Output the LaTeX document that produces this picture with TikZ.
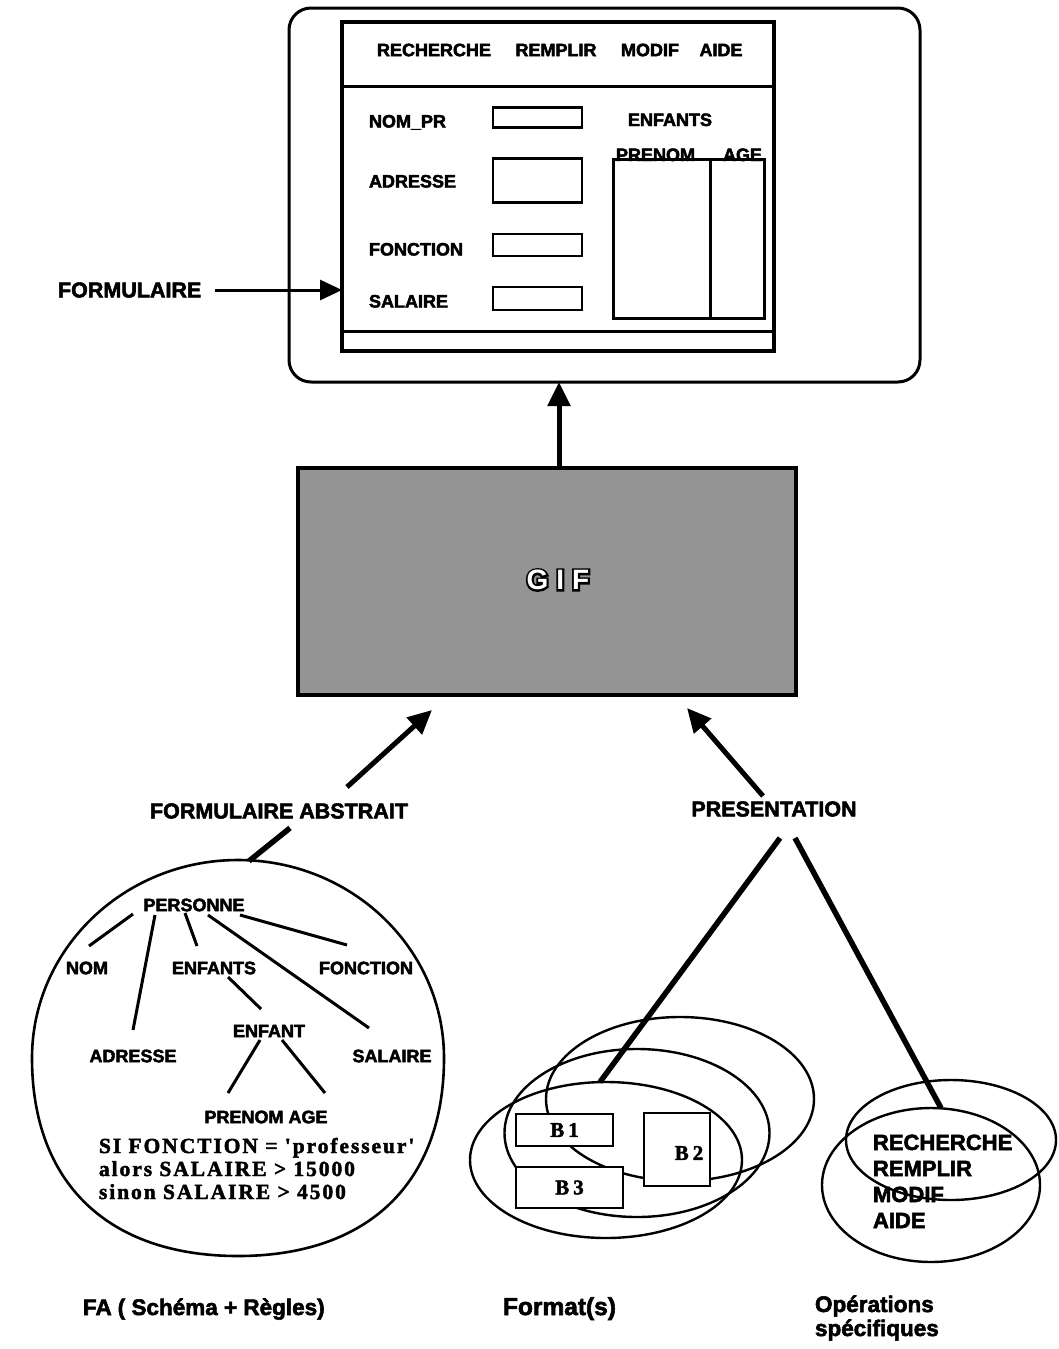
\documentclass[tikz,border=0pt]{standalone}
\usepackage{fontspec}
\setmainfont{Liberation Sans}[BoldFeatures={FakeBold=2.5}]
\newfontfamily\rulefont[LetterSpace=9,BoldFeatures={FakeBold=2}]{Liberation Serif}
\newfontfamily\gifoutline[FakeBold=14]{Liberation Sans Bold}
\newfontfamily\giffont{Liberation Sans Bold}
\usetikzlibrary{arrows.meta,shapes.geometric}
\begin{document}
\begin{tikzpicture}[x=1pt,y=-1pt,
  every node/.style={inner sep=0pt, outer sep=0pt},
  ftxt/.style={font=\bfseries\fontsize{18}{20}\selectfont},
  btxt/.style={font=\bfseries\fontsize{21.5}{24}\selectfont},
  otxt/.style={font=\bfseries\fontsize{22}{24}\selectfont},
  ltxt/.style={font=\bfseries\fontsize{22.5}{25}\selectfont},
  lbig/.style={font=\bfseries\fontsize{24.5}{27}\selectfont},
  rtxt/.style={font=\rulefont\bfseries\fontsize{21.5}{23}\selectfont},
  btext/.style={font=\rulefont\bfseries\fontsize{21}{22}\selectfont},
  field/.style={draw, line width=2.3pt, fill=white},
  tline/.style={line width=3pt},
  pline/.style={line width=5.5pt},
  arr/.style={line width=5pt, -{Triangle[length=24pt,width=22pt]}},
  oval/.style={draw, ellipse, line width=2.4pt},
]
\useasboundingbox (0,0) rectangle (1059,1349);

% ---------- screen / form ----------
\node[draw, line width=3pt, rounded corners=22pt, minimum width=631pt, minimum height=374pt] (screen) at (604.5,195) {};
\node[draw, line width=3.5pt, minimum width=432pt, minimum height=329pt] (form) at (558,186.5) {};
\draw[line width=3pt] ([yshift=-64pt]form.north west) -- ([yshift=-64pt]form.north east);
\draw[line width=3pt] ([yshift=20pt]form.south west) -- ([yshift=20pt]form.south east);

\node[ftxt] (mrech) at (434,50) {RECHERCHE};
\node[ftxt] (mremp) at (556,50) {REMPLIR};
\node[ftxt] (mmod) at (650,50) {MODIF};
\node[ftxt] (maide) at (721,50) {AIDE};

\node[ftxt, anchor=base west] (lnom) at (369,127.5) {NOM\_PR};
\node[ftxt, anchor=base west] (ladr) at (369,187.5) {ADRESSE};
\node[ftxt, anchor=base west] (lfon) at (369,255.5) {FONCTION};
\node[ftxt, anchor=base west] (lsal) at (369,307.5) {SALAIRE};

\node[field, minimum width=89pt, minimum height=20pt] (bnom) at (537.5,117.5) {};
\node[field, minimum width=89pt, minimum height=44pt] (badr) at (537.5,180.5) {};
\node[field, minimum width=89pt, minimum height=22pt] (bfon) at (537.5,245) {};
\node[field, minimum width=89pt, minimum height=23pt] (bsal) at (537.5,298.5) {};

\node[ftxt, anchor=base west] (lenf) at (628,126) {ENFANTS};
\node[ftxt, anchor=base west] (lpre) at (616,161) {PRENOM};
\node[ftxt, anchor=base west] (lage) at (723,161) {AGE};
\node[draw, line width=3pt, minimum width=151pt, minimum height=159pt] (tab) at (688.5,238.5) {};
\draw[line width=3pt] ([xshift=21.5pt]tab.north) -- ([xshift=21.5pt]tab.south);

\node[btxt, anchor=west] (flab) at (58,290) {FORMULAIRE};
\draw[line width=3pt, -{Triangle[length=22pt,width=20pt]}] ([xshift=14pt]flab.east) -- (flab.east -| form.west);

% ---------- GIF ----------
\node[draw, line width=3.5pt, fill=black!42, minimum width=498pt, minimum height=227pt] (gif) at (547,581.5) {};
\node[font=\gifoutline\fontsize{28}{30}\selectfont, text=black] (gifshadow) at (558,580) {G\hspace{8pt}I\hspace{8pt}F};
\node[font=\giffont\fontsize{28}{30}\selectfont, text=white] (giftext) at (558,580) {G\hspace{8pt}I\hspace{8pt}F};

\draw[arr] ([xshift=12pt]gif.north) -- ([xshift=-45.5pt]screen.south);

% ---------- labels under GIF ----------
\node[btxt] (fal) at (279,811) {FORMULAIRE ABSTRAIT};
\node[btxt] (pres) at (774,809) {PRESENTATION};
\draw[arr] ([shift={(68,-24)}]fal.center) -- ([shift={(-115,15)}]gif.south);
\draw[arr] ([shift={(-11,-13)}]pres.center) -- ([shift={(140,13)}]gif.south);

% ---------- abstract form (tree) ----------
\draw[line width=2.6pt] (32,1058) .. controls (32,949) and (124,860) .. (238,860)
  .. controls (352,860) and (444,949) .. (444,1058)
  .. controls (444,1183) and (368,1256) .. (238,1256)
  .. controls (108,1256) and (32,1183) .. (32,1058) -- cycle;
\coordinate (fatop) at (249,861);
\draw[pline] ([shift={(11,17)}]fal.center) -- (fatop);

\node[ftxt] (pers) at (194,905) {PERSONNE};
\node[ftxt] (nom) at (87,968) {NOM};
\node[ftxt] (enfs) at (214,968) {ENFANTS};
\node[ftxt] (fonc) at (366,968) {FONCTION};
\node[ftxt] (adr) at (133,1056) {ADRESSE};
\node[ftxt] (enf) at (269,1031) {ENFANT};
\node[ftxt] (sal) at (392,1056) {SALAIRE};
\node[ftxt] (pa) at (266,1117) {PRENOM AGE};

\draw[tline] ([shift={(-61,9)}]pers.center) -- ([shift={(2,-22)}]nom.center);
\draw[tline] ([shift={(-39,10)}]pers.center) -- ([shift={(0,-26)}]adr.center);
\draw[tline] ([shift={(-9,8)}]pers.center) -- ([shift={(-17,-22)}]enfs.center);
\draw[tline] ([shift={(14,10)}]pers.center) -- ([shift={(-23,-28)}]sal.center);
\draw[tline] ([shift={(46,10)}]pers.center) -- ([shift={(-19,-23)}]fonc.center);
\draw[tline] ([shift={(14,9)}]enfs.center) -- ([shift={(-8,-22)}]enf.center);
\draw[tline] ([shift={(-9,9)}]enf.center) -- ([shift={(-38,-24)}]pa.center);
\draw[tline] ([shift={(13,9)}]enf.center) -- ([shift={(59,-24)}]pa.center);

\node[rtxt, anchor=base west] (r1) at (99,1153) {SI FONCTION = 'professeur'};
\node[rtxt, anchor=base west] (r2) at (99,1176) {alors SALAIRE > 15000};
\node[rtxt, anchor=base west] (r3) at (99,1199) {sinon SALAIRE > 4500};

% ---------- formats ----------
\node[oval, minimum width=268pt, minimum height=164pt] (fmtA) at (680,1099) {};
\node[oval, minimum width=265pt, minimum height=168pt] (fmtB) at (637,1133) {};
\node[oval, minimum width=272pt, minimum height=156pt] (fmtC) at (606,1160) {};
\draw[pline] ([shift={(6,29)}]pres.center) -- ([xshift=-6pt]fmtC.north);

\node[field, btext, minimum width=97pt, minimum height=32pt] (b1) at (564.5,1130) {B\hspace{4pt}1};
\node[field, minimum width=66pt, minimum height=73pt] (b2) at (677,1149.5) {};
\node[btext] (b2t) at (689,1153) {B\hspace{4pt}2};
\node[field, btext, minimum width=107pt, minimum height=41pt] (b3) at (569.5,1187.5) {B\hspace{4pt}3};

% ---------- operations ----------
\node[oval, minimum width=210pt, minimum height=120pt] (opD) at (951,1140) {};
\node[oval, minimum width=218pt, minimum height=154pt] (opE) at (931,1185) {};
\draw[pline] ([shift={(21,29)}]pres.center) -- ([xshift=10pt]opE.north);

\node[otxt, anchor=base west] (o1) at (873,1150) {RECHERCHE};
\node[otxt, anchor=base west] (o2) at (873,1176) {REMPLIR};
\node[otxt, anchor=base west] (o3) at (873,1202) {MODIF};
\node[otxt, anchor=base west] (o4) at (873,1228) {AIDE};

% ---------- captions ----------
\node[ltxt, anchor=base west] (cfa) at (83,1315) {FA\hspace{6pt}( Schéma + Règles)};
\node[lbig, anchor=base west] (cfmt) at (503,1315) {Format(s)};
\node[ltxt, anchor=base west] (cop1) at (815,1312) {Opérations};
\node[ltxt, anchor=base west] (cop2) at (815,1336) {spécifiques};
\end{tikzpicture}
\end{document}
